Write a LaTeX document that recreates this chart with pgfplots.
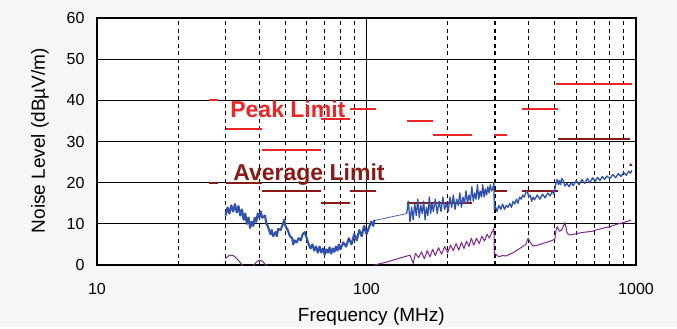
\documentclass[border=0pt]{standalone}
\usepackage{pgfplots}
\pgfplotsset{compat=1.18}
\usepackage{fontspec}
\setmainfont{Liberation Sans}
\definecolor{peakred}{RGB}{236,38,38}
\definecolor{avgred}{RGB}{138,26,22}
\definecolor{mblue}{RGB}{48,82,172}
\definecolor{mpurple}{RGB}{125,40,140}
\definecolor{bg}{RGB}{245,246,248}
\begin{document}
\begin{tikzpicture}[x=1pt,y=1pt]
\fill[bg] (-97,-62) rectangle (580,265);
\begin{axis}[
  at={(0,0)}, anchor=south west,
  scale only axis, width=539pt, height=247pt,
  xmode=log, log basis x=10,
  xmin=10, xmax=1000, ymin=0, ymax=60,
  xtick={10,100,1000}, xticklabels={10,100,1000},
  minor xtick={20,30,40,50,60,70,80,90,200,300,400,500,600,700,800,900},
  ytick={0,10,20,30,40,50,60},
  xmajorgrids, ymajorgrids, xminorgrids,
  major grid style={black, line width=0.9pt},
  minor grid style={black, line width=1.2pt, dash pattern=on 4pt off 3.5pt},
  tick style={draw=none},
  axis line style={black, line width=1.1pt},
  axis background/.style={fill=white},
  /pgf/number format/assume math mode=true,
  ticklabel style={font=\fontsize{16}{16}\selectfont},
  xticklabel style={yshift=-15pt},
  yticklabel style={xshift=-9pt},
  xlabel={Frequency (MHz)},
  ylabel={Noise Level (dBµV/m)},
  xlabel style={font=\fontsize{19}{19}\selectfont, at={(axis description cs:0.509,-0.2296)}, anchor=base},
  ylabel style={font=\fontsize{19}{19}\selectfont, at={(axis description cs:-0.0965,0.504)}, anchor=base},
  every axis plot/.append style={line join=round},
]
% ---- Peak limit segments
\addplot[peakred, line width=2pt] coordinates {(26,40) (28,40)};
\addplot[peakred, line width=2pt] coordinates {(30,33) (41,33)};
\addplot[peakred, line width=2pt] coordinates {(41,28) (68,28)};
\addplot[peakred, line width=2pt] coordinates {(68,35.5) (87,35.5)};
\addplot[peakred, line width=2pt] coordinates {(87,38) (108,38)};
\addplot[peakred, line width=2pt] coordinates {(141,35) (176,35)};
\addplot[peakred, line width=2pt] coordinates {(176,31.7) (246,31.7)};
\addplot[peakred, line width=2pt] coordinates {(297,31.7) (332,31.7)};
\addplot[peakred, line width=2pt] coordinates {(378,38) (514,38)};
\addplot[peakred, line width=2pt] coordinates {(505,44) (967,44)};
% ---- Average limit segments
\addplot[avgred, line width=2pt] coordinates {(26,20) (28,20)};
\addplot[avgred, line width=2pt] coordinates {(30,20) (41,20)};
\addplot[avgred, line width=2pt] coordinates {(41,18) (68,18)};
\addplot[avgred, line width=2pt] coordinates {(68,15) (87,15)};
\addplot[avgred, line width=2pt] coordinates {(87,18) (108,18)};
\addplot[avgred, line width=2pt] coordinates {(141,15) (246,15)};
\addplot[avgred, line width=2pt] coordinates {(297,18) (332,18)};
\addplot[avgred, line width=2pt] coordinates {(378,18) (514,18)};
\addplot[avgred, line width=2pt] coordinates {(514,30.7) (950,30.7)};
\addplot[avgred, only marks, mark=triangle*, mark size=1.6pt] coordinates {(957,24.3)};
% ---- Average measurement (purple)
\addplot[mpurple, line width=1pt] coordinates {
(30,1.6) (30.5,2.0) (31,2.4) (32,2.3) (33,1.6) (34,0.6) (35,-0.5)};
\addplot[mpurple, line width=1pt] coordinates {
(38,-0.3) (39,0.7) (40,1.2) (41,1.0) (42,0.2) (43,-0.5)};
\addplot[mpurple, line width=1pt] coordinates {
(107,0.0) (117,0.6) (145,2.4) (149,0.4) (152,2.8) (156,1.8) (160,3.2) (164,1.5)
(168,3.5) (172,2.0) (176,3.8) (180,2.3) (185,4.2) (190,2.6) (195,4.5) (200,3.0)
(205,4.8) (210,3.5) (215,5.2) (220,3.6) (225,5.5) (230,4.0) (235,5.8) (240,4.5)
(245,6.5) (250,4.8) (256,6.5) (262,5.2) (268,7.0) (274,5.8) (280,7.5) (286,6.5)
(292,8.0) (296,8.5) (297,9.0) (298,2.8) (302,2.6) (310,2.0) (320,2.3) (330,2.2)
(340,2.6) (350,3.0) (360,3.5) (370,4.0) (380,4.5) (390,5.0) (398,6.5) (405,5.5)
(415,4.6) (430,4.8) (450,5.2) (470,5.6) (490,6.0) (500,6.3) (505,8.5) (510,9.3)
(520,8.2) (530,8.5) (545,10.3) (555,7.8) (565,7.3) (580,7.4) (600,7.6) (620,7.8)
(650,8.0) (690,8.2) (720,8.6) (760,9.0) (800,9.3) (822,9.6) (860,10.0) (900,10.3)
(950,10.8) (960,10.9)};
% ---- Peak measurement (blue)
\addplot[mblue, line width=2.1pt] coordinates {
(30,12.0) (30.5,14.0) (31,12.5) (31.5,14.5) (32,13.0) (32.5,14.8) (33,12.8) (33.5,14.3)
(34,12.0) (34.5,13.5) (35,11.0) (35.5,12.5) (36,10.0) (36.5,11.5) (37,9.0) (37.5,10.5)
(38,9.5) (38.5,11.5) (39,10.5) (39.5,12.5) (40,11.5) (40.5,13.0) (41,11.5) (42,12.0)
(42.5,10.0) (43,9.5) (44,7.5) (44.5,8.5) (45,7.0) (46,8.0) (46.5,7.0) (47,8.8)
(48,8.5) (49,10.0) (49.5,11.0) (50,9.5) (51,8.5) (52,7.0) (53,6.5) (53.5,5.0)
(54,6.0) (55,5.5) (56,6.5) (57,6.0) (58,7.5) (59,8.0) (60,6.5) (61,5.0)
(62,4.0) (63,5.0) (64,3.5) (65,4.5) (66,3.0) (67,4.5) (68,3.0) (69,4.0)
(70,2.5) (71,3.8) (72,3.0) (73,4.3) (74,2.8) (75,4.0) (76,3.2) (77,4.5)
(78,3.5) (79,5.0) (80,3.8) (82,5.5) (84,4.5) (86,6.5) (88,5.0) (90,7.5)
(92,6.0) (94,8.5) (96,7.0) (98,9.5) (100,7.5) (102,9.0) (104,10.5) (106,9.5) (107,11.0)};
\addplot[mblue, line width=0.7pt] coordinates {(107,10.8) (141,12.5)};
\addplot[mblue, line width=1.3pt] coordinates {
(141,12.5) (143,15.5) (145,10.5) (147,14.0) (149,11.0) (151,15.0) (153,12.0) (155,16.0)
(157,11.5) (159,14.5) (161,12.5) (163,15.5) (165,11.0) (167,14.0) (169,12.0) (171,16.5)
(173,12.5) (175,15.0) (177,13.0) (180,16.0) (183,12.5) (186,15.5) (189,13.0) (192,16.5)
(195,13.5) (198,15.0) (201,13.0) (204,16.5) (207,14.0) (210,17.0) (213,13.5) (216,16.0)
(219,14.5) (222,17.5) (225,14.0) (228,16.5) (231,15.0) (234,18.0) (237,15.0) (240,17.0)
(243,15.5) (246,19.0) (249,15.5) (252,17.5) (255,16.0) (258,19.5) (261,16.0) (264,18.0)
(267,16.5) (270,19.5) (273,16.5) (276,18.5) (279,17.0) (282,19.0) (285,17.5) (288,19.5)
(291,18.0) (294,18.5) (297,20.0) (298,13.5) (300,14.5) (305,13.0) (310,14.5) (315,13.5)
(320,14.8) (325,13.5) (330,14.5) (335,14.0) (340,15.0) (345,14.0) (350,15.5) (355,14.8)
(360,16.0) (365,15.0) (370,16.5) (375,16.0) (380,17.0) (385,16.5) (390,17.5) (395,18.0)
(400,16.5) (405,17.0) (410,15.5) (415,16.5) (420,15.8) (430,17.0) (440,16.0) (450,17.2)
(460,16.3) (470,17.5) (480,16.8) (490,18.0) (495,17.2) (500,18.5) (505,20.0) (510,20.8)
(515,19.5) (520,20.5) (525,19.5) (530,21.0) (537,20.5) (545,19.2) (555,19.8) (565,19.0)
(575,20.0) (585,19.3) (600,20.5) (615,19.5) (630,20.8) (645,19.8) (660,21.0) (675,20.0)
(690,21.2) (705,20.3) (720,21.3) (735,20.5) (750,21.5) (765,20.8) (780,21.6) (800,21.0)
(820,22.0) (840,21.2) (860,22.2) (880,21.5) (900,22.5) (920,21.8) (940,22.8) (955,22.3) (965,23.0)};
% ---- Annotations
\node[anchor=base west, inner sep=0pt, text=peakred, font=\fontsize{23}{23}\selectfont\bfseries] at (axis cs:31.2,35.9) {Peak Limit};
\node[anchor=base west, inner sep=0pt, text=avgred, font=\fontsize{23}{23}\selectfont\bfseries] at (axis cs:32.0,20.6) {Average Limit};
\end{axis}
\end{tikzpicture}
\end{document}
